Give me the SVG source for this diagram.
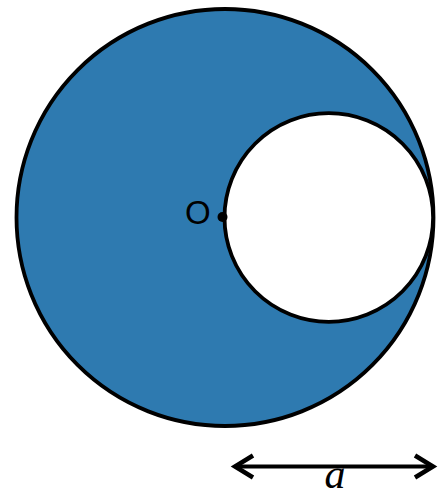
<svg xmlns="http://www.w3.org/2000/svg" width="442" height="498" viewBox="0 0 442 498">
<style>
.ln{stroke:#000;stroke-width:3.8;}
.lbl{font-family:"Liberation Sans",Arial,sans-serif;font-size:33px;fill:#000;}
.it{font-family:"Liberation Serif","Times New Roman",serif;font-style:italic;font-size:42px;fill:#000;}
</style>
<rect width="442" height="498" fill="#fff"/>
<g id="disc">
<circle class="ln" cx="225" cy="217.5" r="208.5" fill="#2e7ab0"/>
</g>
<g id="hole">
<circle class="ln" cx="328.8" cy="217.5" r="104.3" fill="#fff"/>
</g>
<g id="center">
<circle cx="222.5" cy="217" r="5" fill="#000"/>
<text class="lbl" x="185" y="223.5">O</text>
</g>
<g id="connectors">
<line x1="235" y1="466.5" x2="433" y2="466.5" stroke="#000" stroke-width="4"/>
<polyline points="253,455.5 235,466.5 253,477.5" fill="none" stroke="#000" stroke-width="4.5" stroke-linejoin="miter"/>
<polyline points="415,455.5 433,466.5 415,477.5" fill="none" stroke="#000" stroke-width="4.5" stroke-linejoin="miter"/>
<text class="it" x="335" y="488" text-anchor="middle">a</text>
</g>
</svg>
